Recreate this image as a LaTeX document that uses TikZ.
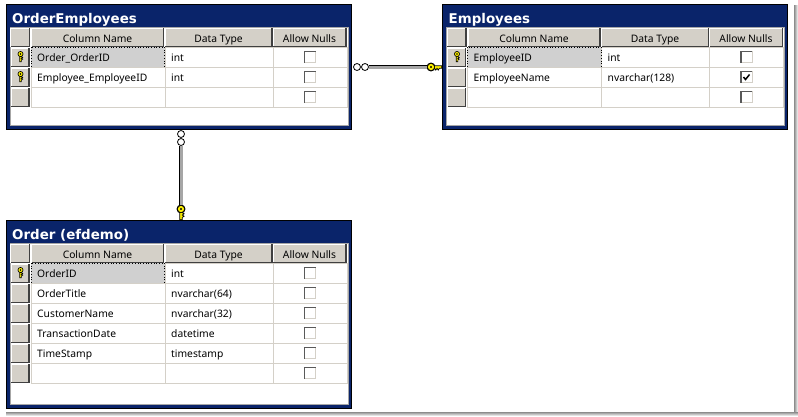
\documentclass[tikz,border=0pt]{standalone}
\usepackage{fontspec}
\setmainfont{Noto Sans}
\newfontfamily\titlefont{DejaVu Sans}
\usetikzlibrary{shadings}

\definecolor{navy}{HTML}{0A246A}
\definecolor{panel}{HTML}{D4D0C8}
\definecolor{selgray}{HTML}{D0D0D0}
\definecolor{keyyellow}{HTML}{FFF200}

\tikzset{
  tabframe/.style={draw=black, line width=1pt, fill=navy, anchor=north west, inner sep=0pt, outer sep=0pt, minimum width=345pt},
  tabinner/.style={draw=gray!70, line width=.8pt, fill=white, anchor=north west, inner sep=0pt, outer sep=0pt, minimum width=338pt},
  tabtitle/.style={anchor=base west, text=white, inner sep=0pt, font=\titlefont\bfseries\fontsize{13.4}{15}\selectfont},
  headcell/.style={fill=panel, anchor=north west, inner sep=0pt, outer sep=0pt, minimum height=18.5pt, text height=10pt, text depth=.4pt, font=\fontsize{10.3}{12}\selectfont},
  handlecell/.style={fill=panel, anchor=north west, inner sep=0pt, outer sep=0pt, minimum width=18pt, minimum height=18.5pt},
  gridcell/.style={draw=panel, line width=.9pt},
  celltext/.style={anchor=base west, inner sep=0pt, font=\fontsize{10.3}{12}\selectfont},
  selcell/.style={draw=black, dotted, line width=.7pt, fill=selgray},
  bevdark/.style={draw=black!75, line width=1.1pt},
  bevlite/.style={draw=white, line width=.9pt},
  nullbox/.style={draw=panel, line width=1pt, fill=white, anchor=center, inner sep=0pt, outer sep=0pt, minimum size=11pt},
  orb/.style={draw=black, line width=.8pt, fill=white, circle, inner sep=0pt, minimum size=7pt},
  keyhead/.style={draw=black, line width=.9pt, fill=keyyellow, circle, inner sep=0pt, minimum size=8pt},
  relline/.style={draw=black, line width=.8pt, double=gray!70, double distance=3pt},
  keyicon/.pic={
    \draw[fill=keyyellow, line width=.7pt] (-1,2) -- (1,2) -- (1,3) -- (2.6,4) -- (1,5) -- (2.6,6) -- (1,7) -- (1,9) -- (-1,9) -- cycle;
    \draw[fill=keyyellow, line width=.7pt] (0,0) circle (3);
    \fill (0,0) circle (.9);
  }
}

\newcommand{\headbevel}[1]{
  \draw[bevlite] (#1.south west) -- (#1.north west) -- (#1.north east);
  \draw[bevdark] (#1.north east) -- (#1.south east) -- (#1.south west);
}

\newcommand{\dbtable}[6]{
  \begin{scope}[shift={(#2,#3)}]
    \node[tabframe, minimum height=#4] (#1) at (0,0) {};
    \node[tabinner, minimum height=#4-27] (#1in) at (4,23) {};
    \node[tabtitle] (#1title) at (6,19) {#5};

    \node[handlecell, minimum width=19pt] (#1corner) at (4.5,24) {};
    \node[headcell, minimum width=132pt] (#1hname) at (25.5,24) {Column Name};
    \node[headcell, minimum width=107pt] (#1htype) at (159,24) {Data Type};
    \node[headcell, minimum width=73pt] (#1hnull) at (267,24) {Allow Nulls};
    \headbevel{#1corner}
    \headbevel{#1hname}
    \headbevel{#1htype}
    \headbevel{#1hnull}

    \foreach \rowid/\colname/\coltype/\ischeck/\iskey in {#6} {
      \draw[gridcell] (25,{43+20*\rowid}) rectangle (159,{63+20*\rowid});
      \draw[gridcell] (159,{43+20*\rowid}) rectangle (267,{63+20*\rowid});
      \draw[gridcell] (267,{43+20*\rowid}) rectangle (341,{63+20*\rowid});
      \ifnum\rowid=0
        \draw[selcell] (25,43) rectangle (158.5,63);
      \fi
      \node[handlecell] (#1h\rowid) at (5,{44+20*\rowid}) {};
      \headbevel{#1h\rowid}
      \node[celltext] (#1n\rowid) at (31,{57+20*\rowid}) {\colname};
      \node[celltext] (#1t\rowid) at (165,{57+20*\rowid}) {\coltype};
      \node[nullbox] (#1b\rowid) at (304,{53+20*\rowid}) {};
      \draw[draw=black!65, line width=1.4pt] (#1b\rowid.south west) -- (#1b\rowid.north west) -- (#1b\rowid.north east);
      \ifnum\ischeck=1
        \draw[line width=1.5pt] ([shift={(2.5pt,-5.5pt)}]#1b\rowid.north west) -- ++(2,2.5) -- ++(4,-5);
      \fi
      \ifnum\iskey=1
        \pic[scale=.85] at (14.5,{50+20*\rowid}) {keyicon};
      \fi
    }
  \end{scope}
}

\begin{document}
\begin{tikzpicture}[x=1pt, y=-1pt]
  \useasboundingbox (0,0) rectangle (798,416);

  \shade[left color=gray!90, right color=white] (794,5) rectangle (798,416);
  \shade[top color=gray!90, bottom color=white] (6,412) rectangle (798,416);

  \dbtable{orderemp}{6}{4}{125}{OrderEmployees}{
    0/Order\_OrderID/int/0/1,
    1/Employee\_EmployeeID/int/0/1,
    2///0/0}
  \dbtable{employees}{442.5}{4}{125}{Employees}{
    0/EmployeeID/int/0/1,
    1/EmployeeName/nvarchar(128)/1/0,
    2///0/0}
  \dbtable{orders}{6}{220}{188}{Order (efdemo)}{
    0/OrderID/int/0/1,
    1/OrderTitle/nvarchar(64)/0/0,
    2/CustomerName/nvarchar(32)/0/0,
    3/TransactionDate/datetime/0/0,
    4/TimeStamp/timestamp/0/0,
    5///0/0}

  \node[orb] (orbA) at (357,67) {};
  \node[orb] (orbB) at (365,67) {};
  \node[keyhead] (keyA) at (431,67) {};
  \draw[relline] (orbB) -- (keyA);
  \pic[rotate=90, xscale=-1, scale=1.2] at (keyA) {keyicon};

  \node[orb] (orbC) at (181,134) {};
  \node[orb] (orbD) at (181,142) {};
  \node[keyhead] (keyB) at (181,209) {};
  \draw[relline] (orbD) -- (keyB);
  \pic[scale=1.2] at (keyB) {keyicon};
\end{tikzpicture}
\end{document}
